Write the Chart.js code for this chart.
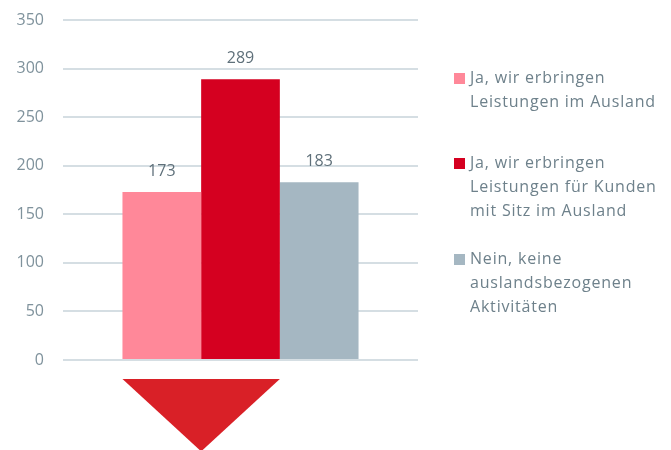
<!DOCTYPE html>
<html>
<head>
<meta charset="utf-8">
<script src="https://cdn.jsdelivr.net/npm/chart.js@4"></script>
<style>
  html, body { margin: 0; padding: 0; background: #fff; }
  #wrap { width: 671px; height: 450px; }
</style>
</head>
<body>
<div id="wrap"><canvas id="chart"></canvas></div>
<script>
// daten
const categories = [''];
const seriesLabels = [
  ['Ja, wir erbringen', 'Leistungen im Ausland'],
  ['Ja, wir erbringen', 'Leistungen für Kunden', 'mit Sitz im Ausland'],
  ['Nein, keine', 'auslandsbezogenen', 'Aktivitäten']
];
const seriesValues = [173, 289, 183];
const seriesColors = ['#ff8899', '#d50020', '#a5b7c2'];
const yTicks = [0, 50, 100, 150, 200, 250, 300, 350];

const FONT = '"Open Sans", sans-serif';

// werte über den balken
const valueLabels = {
  id: 'valueLabels',
  afterDatasetsDraw(chart) {
    const ctx = chart.ctx;
    ctx.save();
    ctx.font = '16px ' + FONT;
    ctx.fillStyle = '#5f707a';
    ctx.textAlign = 'center';
    ctx.textBaseline = 'middle';
    chart.data.datasets.forEach((ds, i) => {
      const bar = chart.getDatasetMeta(i).data[0];
      ctx.fillText(ds.data[0], bar.x, bar.y - 21);
    });
    ctx.restore();
  }
};

// roter pfeil unter den ersten beiden balken
const arrow = {
  id: 'arrow',
  afterDatasetsDraw(chart) {
    const a = chart.getDatasetMeta(0).data[0];
    const b = chart.getDatasetMeta(1).data[0];
    const left = a.x - a.width / 2;
    const right = b.x + b.width / 2;
    const top = chart.scales.y.getPixelForValue(0) + 19;
    const ctx = chart.ctx;
    ctx.save();
    ctx.fillStyle = '#d92027';
    ctx.beginPath();
    ctx.moveTo(left, top);
    ctx.lineTo(right, top);
    ctx.lineTo((left + right) / 2, top + (right - left) / 2 * 0.92);
    ctx.closePath();
    ctx.fill();
    ctx.restore();
  }
};

// legende rechts, mehrzeilig
const sideLegend = {
  id: 'sideLegend',
  afterDraw(chart) {
    const ctx = chart.ctx;
    const starts = [78, 163, 259];
    ctx.save();
    ctx.font = '16px ' + FONT;
    ctx.letterSpacing = '0.8px';
    ctx.textBaseline = 'middle';
    chart.data.datasets.forEach((ds, i) => {
      ctx.fillStyle = ds.backgroundColor;
      ctx.fillRect(454, starts[i] - 5, 11, 11);
      ctx.fillStyle = '#6e818b';
      ds.label.forEach((line, j) => {
        ctx.fillText(line, 470, starts[i] + j * 24);
      });
    });
    ctx.restore();
  }
};

new Chart(document.getElementById('chart'), {
  type: 'bar',
  data: {
    labels: categories,
    datasets: seriesValues.map((v, i) => ({
      label: seriesLabels[i],
      data: [v],
      backgroundColor: seriesColors[i],
      barPercentage: 1,
      categoryPercentage: 0.665
    }))
  },
  options: {
    responsive: true,
    maintainAspectRatio: false,
    animation: false,
    layout: { padding: { top: 20, right: 253, bottom: 90, left: 13 } },
    plugins: {
      legend: { display: false },
      tooltip: { enabled: false }
    },
    scales: {
      x: { display: false },
      y: {
        min: 0,
        max: 350,
        afterBuildTicks: (axis) => { axis.ticks = yTicks.map(v => ({ value: v })); },
        afterFit: (axis) => {
          axis.width = 50;
          axis.paddingTop = 0;
          axis.paddingBottom = 0;
        },
        ticks: {
          color: '#7f929c',
          padding: 19,
          font: { family: FONT, size: 16 }
        },
        grid: { color: '#d5dee3', lineWidth: 2, drawTicks: false },
        border: { display: false }
      }
    }
  },
  plugins: [valueLabels, arrow, sideLegend]
});
</script>
</body>
</html>
